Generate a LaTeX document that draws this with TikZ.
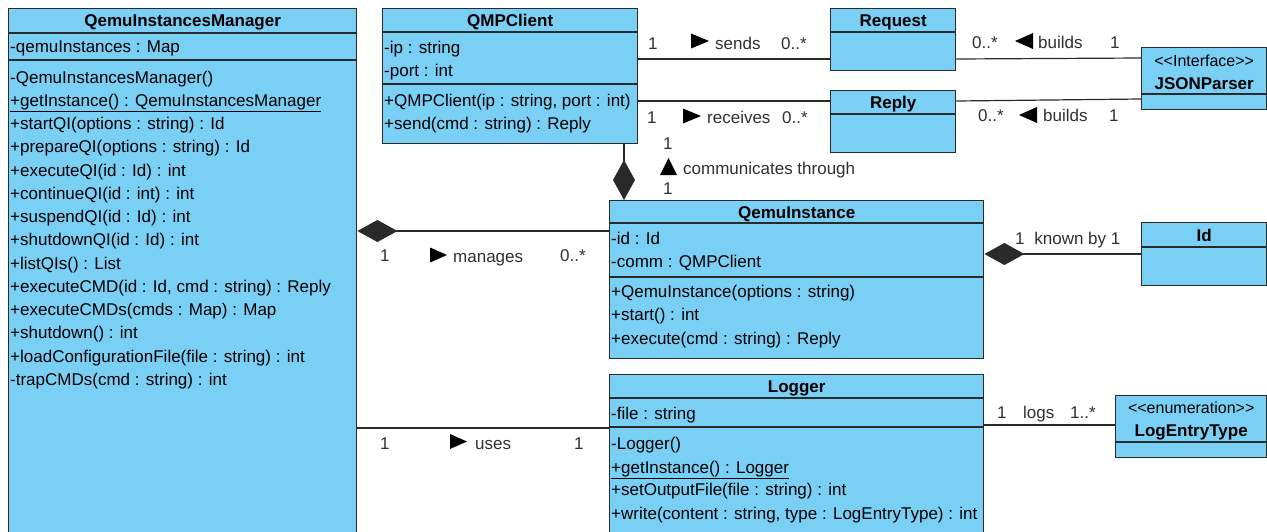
\documentclass[tikz,border=0pt]{standalone}
\usepackage{fontspec}
\setmainfont{Liberation Sans}
\usetikzlibrary{arrows.meta}
\definecolor{clsfill}{HTML}{7ACFF5}
\definecolor{clsline}{HTML}{2A2A2A}
\definecolor{lbl}{HTML}{303030}
\begin{document}
\begin{tikzpicture}[x=1pt,y=-1pt,
  cls/.style={draw=clsline, fill=clsfill, line width=1.4pt, rectangle, anchor=north west, inner sep=0pt},
  mem/.style={anchor=west, inner sep=0pt, text height=13pt, text depth=1pt, font=\fontsize{17}{20}\selectfont, text=black},
  ttl/.style={anchor=center, inner sep=0pt, text height=13pt, text depth=1pt, font=\fontsize{17}{20}\selectfont\bfseries},
  ster/.style={anchor=center, inner sep=0pt, text height=13pt, text depth=1pt, font=\fontsize{16}{20}\selectfont},
  lab/.style={anchor=west, inner sep=0pt, text height=13pt, text depth=1pt, font=\fontsize{17}{20}\selectfont, text=lbl},
  sep/.style={draw=clsline, line width=1.4pt},
  assoc/.style={draw=clsline, line width=1.2pt},
  comp/.style={assoc, -{Diamond[length=40pt,width=22pt]}},
  tri/.style={fill=black}
]
\useasboundingbox (0,0) rectangle (1267,531);
\fill[white] (0,0) rectangle (1267,531);
\clip (0,0) rectangle (1267,531);

% ---------- class boxes ----------
\node[cls, minimum width=348pt, minimum height=560pt] (qim) at (8,8) {};
\node[cls, minimum width=255pt, minimum height=135pt] (qmp) at (382,8) {};
\node[cls, minimum width=125pt, minimum height=62pt] (req) at (830,8) {};
\node[cls, minimum width=125pt, minimum height=62pt] (rep) at (830,90) {};
\node[cls, minimum width=125pt, minimum height=62pt] (json) at (1141,47) {};
\node[cls, minimum width=374pt, minimum height=158pt] (qi) at (609,200) {};
\node[cls, minimum width=125pt, minimum height=63pt] (id) at (1141,222) {};
\node[cls, minimum width=374pt, minimum height=200pt] (log) at (609,374) {};
\node[cls, minimum width=151pt, minimum height=62pt] (let) at (1115,395) {};

% ---------- compartment separators ----------
\draw[sep] (qim.west |- 0,33) -- (qim.east |- 0,33);
\draw[sep] (qim.west |- 0,60) -- (qim.east |- 0,60);
\draw[sep] (qmp.west |- 0,32) -- (qmp.east |- 0,32);
\draw[sep] (qmp.west |- 0,84) -- (qmp.east |- 0,84);
\draw[sep] (req.west |- 0,32) -- (req.east |- 0,32);
\draw[sep] (rep.west |- 0,114) -- (rep.east |- 0,114);
\draw[sep] (json.west |- 0,94) -- (json.east |- 0,94);
\draw[sep] (qi.west |- 0,223) -- (qi.east |- 0,223);
\draw[sep] (qi.west |- 0,277) -- (qi.east |- 0,277);
\draw[sep] (id.west |- 0,247) -- (id.east |- 0,247);
\draw[sep] (log.west |- 0,398) -- (log.east |- 0,398);
\draw[sep] (log.west |- 0,427) -- (log.east |- 0,427);
\draw[sep] (let.west |- 0,442) -- (let.east |- 0,442);

% ---------- titles ----------
\node[ttl] (qimT) at (qim.north |- 0,20) {QemuInstancesManager};
\node[ttl] (qmpT) at (qmp.north |- 0,20) {QMPClient};
\node[ttl] (reqT) at (req.north |- 0,20) {Request};
\node[ttl] (repT) at (rep.north |- 0,102) {Reply};
\node[ster] (jsonS) at (json.north |- 0,60) {<\kern0pt<Interface>\kern0pt>};
\node[ttl] (jsonT) at (json.north |- 0,83) {JSONParser};
\node[ttl] (qiT) at (qi.north |- 0,212) {QemuInstance};
\node[ttl] (idT) at (id.north |- 0,235) {Id};
\node[ttl] (logT) at (log.north |- 0,386) {Logger};
\node[ster] (letS) at (let.north |- 0,407) {<\kern0pt<enumeration>\kern0pt>};
\node[ttl] (letT) at (let.north |- 0,430) {LogEntryType};

% ---------- QemuInstancesManager members ----------
\node[mem] (qimA1) at (10,46) {-qemuInstances : Map};
\node[mem] (qimM1) at (10,77) {-QemuInstancesManager()};
\node[mem] (qimM2) at (10,100.25) {\underline{+getInstance() : QemuInstancesManager}};
\node[mem] (qimM3) at (10,123.5) {+startQI(options : string) : Id};
\node[mem] (qimM4) at (10,146.75) {+prepareQI(options : string) : Id};
\node[mem] (qimM5) at (10,170) {+executeQI(id : Id) : int};
\node[mem] (qimM6) at (10,193.25) {+continueQI(id : int) : int};
\node[mem] (qimM7) at (10,216.5) {+suspendQI(id : Id) : int};
\node[mem] (qimM8) at (10,239.75) {+shutdownQI(id : Id) : int};
\node[mem] (qimM9) at (10,263) {+listQIs() : List};
\node[mem] (qimM10) at (10,286.25) {+executeCMD(id : Id, cmd : string) : Reply};
\node[mem] (qimM11) at (10,309.5) {+executeCMDs(cmds : Map) : Map};
\node[mem] (qimM12) at (10,332.75) {+shutdown() : int};
\node[mem] (qimM13) at (10,356) {+loadConfigurationFile(file : string) : int};
\node[mem] (qimM14) at (10,379.25) {-trapCMDs(cmd : string) : int};

% ---------- QMPClient members ----------
\node[mem] (qmpA1) at (384,47) {-ip : string};
\node[mem] (qmpA2) at (384,70) {-port : int};
\node[mem] (qmpM1) at (384,100) {+QMPClient(ip : string, port : int)};
\node[mem] (qmpM2) at (384,123) {+send(cmd : string) : Reply};

% ---------- QemuInstance members ----------
\node[mem] (qiA1) at (611,238) {-id : Id};
\node[mem] (qiA2) at (611,261) {-comm : QMPClient};
\node[mem] (qiM1) at (611,291) {+QemuInstance(options : string)};
\node[mem] (qiM2) at (611,314) {+start() : int};
\node[mem] (qiM3) at (611,338) {+execute(cmd : string) : Reply};

% ---------- Logger members ----------
\node[mem] (logA1) at (611,413) {-file : string};
\node[mem] (logM1) at (611,443) {-Logger()};
\node[mem] (logM2) at (611,467) {\underline{+getInstance() : Logger}};
\node[mem] (logM3) at (611,489) {+setOutputFile(file : string) : int};
\node[mem] (logM4) at (611,513) {+write(content : string, type : LogEntryType) : int};

% ---------- connectors ----------
\draw[assoc] (qmp.east |- 0,59) -- (req.west |- 0,59);
\draw[assoc] (qmp.east |- 0,101) -- (rep.west |- 0,101);
\draw[assoc] (req.east |- 0,59) -- (json.west |- 0,58);
\draw[assoc] (rep.east |- 0,101) -- (json.west |- 0,99);
\draw[comp] (qmp.south -| 624,0) -- (qi.north -| 624,0);
\draw[comp] (qi.west |- 0,231) -- (qim.east |- 0,231);
\draw[comp] (id.west |- 0,254) -- (qi.east |- 0,254);
\draw[assoc] (log.west |- 0,428) -- (qim.east |- 0,428);
\draw[assoc] (log.east |- 0,425) -- (let.west |- 0,425);

% ---------- connector labels ----------
% sends
\node[lab] (sendsM1) at (648,43) {1};
\fill[tri] (691,33.5) -- (709,41) -- (691,48.5) -- cycle;
\node[lab] (sendsL) at (715,43) {sends};
\node[lab] (sendsM2) at (781,43) {0..*};
% receives
\node[lab] (recvM1) at (647,117) {1};
\fill[tri] (683,108.5) -- (701,116) -- (683,123.5) -- cycle;
\node[lab] (recvL) at (707,117) {receives};
\node[lab] (recvM2) at (782,117) {0..*};
% builds (Request)
\node[lab] (bld1M1) at (972,42) {0..*};
\fill[tri] (1033,33) -- (1015,41) -- (1033,49) -- cycle;
\node[lab] (bld1L) at (1038,42) {builds};
\node[lab] (bld1M2) at (1110,42) {1};
% builds (Reply)
\node[lab] (bld2M1) at (978,115) {0..*};
\fill[tri] (1037,107) -- (1019,115) -- (1037,123) -- cycle;
\node[lab] (bld2L) at (1043,115) {builds};
\node[lab] (bld2M2) at (1109,115) {1};
% communicates through
\node[lab] (comM1) at (663,143) {1};
\fill[tri] (660,175) -- (668.5,158) -- (677,175) -- cycle;
\node[lab] (comL) at (683,168) {communicates through};
\node[lab] (comM2) at (663,188) {1};
% manages
\node[lab] (manM1) at (380,255) {1};
\fill[tri] (430,247.5) -- (447,255) -- (430,262.5) -- cycle;
\node[lab] (manL) at (453,256) {manages};
\node[lab] (manM2) at (560,255) {0..*};
% known by
\node[lab] (knownL) at (1015,238) {1\hspace{5pt} known by 1};
% uses
\node[lab] (usesM1) at (380,443) {1};
\fill[tri] (450,434) -- (467,441.5) -- (450,449) -- cycle;
\node[lab] (usesL) at (475,443) {uses};
\node[lab] (usesM2) at (574,443) {1};
% logs
\node[lab] (logsM1) at (997,412) {1};
\node[lab] (logsL) at (1023,412) {logs};
\node[lab] (logsM2) at (1070,412) {1..*};
\end{tikzpicture}
\end{document}
